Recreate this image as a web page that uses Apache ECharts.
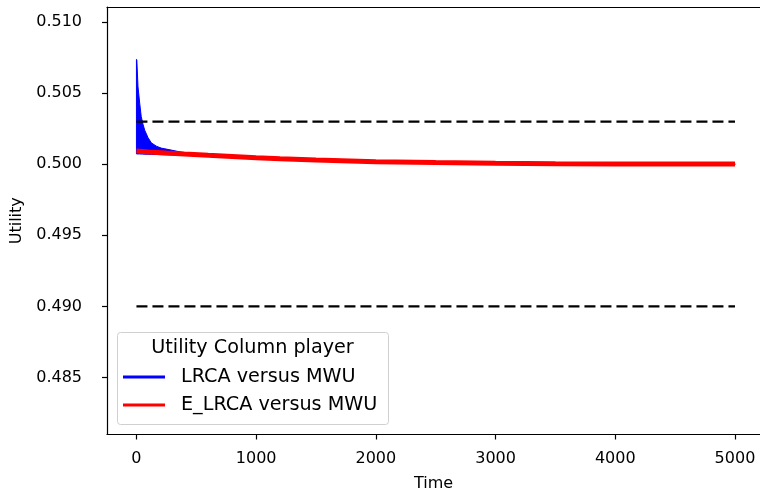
<!DOCTYPE html>
<html>
<head>
<meta charset="utf-8">
<script src="https://cdn.jsdelivr.net/npm/echarts@6/dist/echarts.min.js"></script>
<style>
  html, body { margin: 0; padding: 0; background: #fff; }
  #chart { width: 760px; height: 498px; }
</style>
</head>
<body>
<div id="chart"></div>
<script>
// values
const blueTimes = [0, 3, 13, 27, 40, 55, 69, 96, 124, 166, 207, 291, 400, 700, 1000, 2000, 3000, 4000, 5000]
const blueUpper = [0.50737, 0.50735, 0.50544, 0.50430, 0.50334, 0.50280, 0.50239, 0.50188, 0.50150, 0.50127,
  0.50113, 0.50099, 0.50080, 0.50065, 0.50052, 0.50025, 0.50010, 0.50005, 0.50004]
const blueLower = [0.50072, 0.50072, 0.50072, 0.50072, 0.50071, 0.50071, 0.50070, 0.50070, 0.50069, 0.50068,
  0.50067, 0.50065, 0.50062, 0.50052, 0.50038, 0.50010, 0.49998, 0.49996, 0.49996]

const redTimes = [0, 100, 250, 400, 600, 800, 1000, 1200, 1500, 2000, 2500, 3000, 3500, 4000, 4500, 5000]
const redValues = [0.50092, 0.50086, 0.50078, 0.50071, 0.50062, 0.50054, 0.50046, 0.50039, 0.50029, 0.50017,
  0.50011, 0.50006, 0.50003, 0.50002, 0.50001, 0.50001]

const boundLevels = [0.503, 0.490]
const boundRange = [0, 5000]

const xTicks = [0, 1000, 2000, 3000, 4000, 5000]
const yTicks = [0.485, 0.490, 0.495, 0.500, 0.505, 0.510]

const legendTitle = 'Utility Column player'
const blueName = 'LRCA versus MWU'
const redName = 'E_LRCA versus MWU'

const font = 'DejaVu Sans'
const xRange = [-246, 5209]
const yRange = [0.480986, 0.511056]

let chart = echarts.init(document.getElementById('chart'))

// blue band: upper edge forward, lower edge back
function renderBand(params, api) {
  const pts = []
  blueTimes.forEach((t, i) => pts.push(api.coord([t, blueUpper[i]])))
  for (let i = blueTimes.length - 1; i >= 0; i--) pts.push(api.coord([blueTimes[i], blueLower[i]]))
  return {
    type: 'polygon',
    shape: { points: pts },
    style: { fill: '#0000ff', stroke: '#0000ff', lineWidth: 1 },
  }
}

const boundSeries = boundLevels.map((lvl) => ({
  type: 'line',
  name: 'bound',
  data: boundRange.map((t) => [t, lvl]),
  symbol: 'none',
  silent: true,
  lineStyle: { color: '#000', width: 2.3, type: [11, 5] },
  z: 4,
}))

const axisLineStyle = { color: '#000', width: 1.2 }

const option = {
  animation: false,
  backgroundColor: '#fff',
  grid: { left: 107, top: 7, right: 0, bottom: 63.5 },
  xAxis: [
    {
      type: 'value', min: xRange[0], max: xRange[1],
      name: 'Time', nameLocation: 'middle', nameGap: 41,
      nameTextStyle: { fontFamily: font, fontSize: 16, color: '#000' },
      axisLine: { show: true, onZero: false, lineStyle: axisLineStyle },
      axisTick: { show: true, length: 5, lineStyle: axisLineStyle, customValues: xTicks },
      axisLabel: {
        fontFamily: font, fontSize: 16, color: '#000', margin: 16, customValues: xTicks,
        formatter: (v) => String(v),
      },
      splitLine: { show: false },
    },
    {
      type: 'value', position: 'top', min: xRange[0], max: xRange[1],
      axisLine: { show: true, onZero: false, lineStyle: axisLineStyle },
      axisTick: { show: false }, axisLabel: { show: false }, splitLine: { show: false },
    },
  ],
  yAxis: {
    type: 'value', min: yRange[0], max: yRange[1],
    name: 'Utility', nameLocation: 'middle', nameGap: 79, nameRotate: 90,
    nameTextStyle: { fontFamily: font, fontSize: 16, color: '#000' },
    axisLine: { show: true, onZero: false, lineStyle: axisLineStyle },
    axisTick: { show: true, length: 5, lineStyle: axisLineStyle, customValues: yTicks },
    axisLabel: {
      fontFamily: font, fontSize: 16, color: '#000', margin: 25, customValues: yTicks,
      formatter: (v) => v.toFixed(3),
    },
    splitLine: { show: false },
  },
  legend: {
    data: [blueName, redName],
    orient: 'vertical', left: 123, top: 367, padding: 0, itemGap: 8, z: 10,
    itemWidth: 42, itemHeight: 3, icon: 'rect',
    textStyle: { fontFamily: font, fontSize: 19.2, lineHeight: 20, color: '#000', padding: [0, 0, 0, 11] },
    selectedMode: false,
  },
  graphic: [
    {
      type: 'rect', left: 117, top: 332, z: 1,
      shape: { width: 271, height: 92, r: 3 },
      style: { fill: 'rgba(255,255,255,0.8)', stroke: '#d0d0d0', lineWidth: 1 },
    },
    {
      type: 'text', x: 252.5, y: 348, z: 1,
      style: {
        text: legendTitle, fontFamily: font, fontSize: 19.2, fill: '#000',
        align: 'center', verticalAlign: 'middle',
      },
    },
  ],
  series: [
    {
      type: 'custom', name: blueName, color: '#0000ff',
      renderItem: renderBand,
      data: [[0, blueUpper[0]]],
      silent: true, clip: true,
      z: 2,
    },
    {
      type: 'line', name: redName, color: '#ff0000',
      data: redTimes.map((t, i) => [t, redValues[i]]),
      symbol: 'none', silent: true,
      lineStyle: { width: 5, color: '#ff0000' },
      z: 3,
    },
    ...boundSeries,
  ],
}

chart.setOption(option, true)
</script>
</body>
</html>
